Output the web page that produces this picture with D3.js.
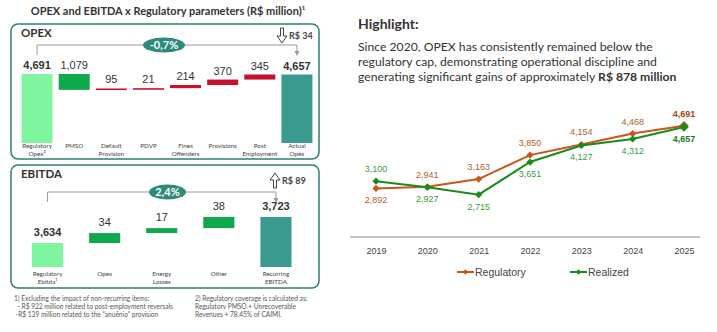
<!DOCTYPE html>
<html>
<head>
<meta charset="utf-8">
<script src="https://cdn.jsdelivr.net/npm/d3@7"></script>
<style>
  body { margin: 0; background: #fff; }
  svg { display: block; }
</style>
</head>
<body>
<div id="chart"></div>
<script>
// ---- data ----
var opexCats = ["Regulatory Opex²", "PMSO", "Default Provision", "PDVP", "Fines Offenders", "Provisions", "Post Employment", "Actual Opex"];
var opexValues = [4691, -1079, 95, 21, 214, 370, 345, 4657];

var ebitdaCats = ["Regulatory Ebitda¹", "Opex", "Energy Losses", "Other", "Recurring EBITDA"];
var ebitdaValues = [3634, 34, 17, 38, 3723];

var years = ["2019", "2020", "2021", "2022", "2023", "2024", "2025"];
var regulatory = [2892, 2941, 3163, 3850, 4154, 4468, 4691];
var realized = [3100, 2927, 2715, 3651, 4127, 4312, 4657];

var fmt = d3.format(",");

var svg = d3.select("#chart").append("svg")
  .attr("width", 717)
  .attr("height", 332);

svg.append("rect").attr("width", 717).attr("height", 332).attr("fill", "#fff");

var titleFont = "Lato, 'Open Sans', sans-serif";
var numFont = "'Liberation Sans', Arial, sans-serif";

// ---- title ----
var title = svg.append("text")
  .attr("x", 168)
  .attr("y", 15)
  .attr("text-anchor", "middle")
  .attr("font-family", titleFont)
  .attr("font-weight", "bold")
  .attr("font-size", 11)
  .attr("fill", "#333");
title.append("tspan").text("OPEX and EBITDA x Regulatory parameters (R$ million)");
title.append("tspan").attr("font-size", 6).attr("dy", -5).text("1");

// ---- waterfall panels ----
function waterfall(opts) {
  var g = svg.append("g");

  g.append("rect")
    .attr("x", opts.box[0])
    .attr("y", opts.box[1])
    .attr("width", opts.box[2])
    .attr("height", opts.box[3])
    .attr("rx", 7)
    .attr("fill", "none")
    .attr("stroke", "#2f7f72")
    .attr("stroke-width", 1.5);

  g.append("text")
    .attr("x", opts.box[0] + 10)
    .attr("y", opts.box[1] + 13)
    .attr("font-family", titleFont)
    .attr("font-weight", "bold")
    .attr("font-size", 11.5)
    .attr("fill", "#333")
    .text(opts.name);

  var x = d3.scaleBand()
    .domain(opts.cats)
    .range(opts.xRange)
    .paddingInner(opts.padIn)
    .paddingOuter(opts.padIn / 2);

  var y = d3.scaleLinear().domain(opts.yDomain).range(opts.yRange);

  // running sums
  var n = opts.values.length;
  var running = 0;
  var bars = opts.values.map(function (v, i) {
    var b = { cat: opts.cats[i], v: v, total: i == 0 || i == n - 1 };
    if (b.total) {
      b.lo = opts.yDomain[0];
      b.hi = v;
      running = v;
    } else {
      b.lo = Math.min(running, running + v);
      b.hi = Math.max(running, running + v);
      running = running + v;
    }
    return b;
  });

  function barColor(b, i) {
    if (i == 0) return "#7ff5a0";
    if (i == n - 1) return "#3b9a8f";
    return b.v < 0 ? opts.downColor : opts.upColor;
  }

  g.selectAll(".bar")
    .data(bars)
    .enter()
    .append("rect")
    .attr("x", function (d) { return x(d.cat); })
    .attr("width", x.bandwidth())
    .attr("y", function (d) { return y(d.hi); })
    .attr("height", function (d) { return Math.max(1.6, y(d.lo) - y(d.hi)); })
    .attr("fill", barColor);

  g.selectAll(".val")
    .data(bars)
    .enter()
    .append("text")
    .attr("x", function (d) { return x(d.cat) + x.bandwidth() / 2; })
    .attr("y", function (d) { return y(d.hi) - opts.labelGap; })
    .attr("text-anchor", "middle")
    .attr("font-family", numFont)
    .attr("font-size", 11)
    .attr("font-weight", function (d) { return d.total ? "bold" : "normal"; })
    .attr("fill", "#333")
    .text(function (d) { return fmt(Math.abs(d.v)); });

  // category labels
  var cl = g.selectAll(".cat")
    .data(opts.cats)
    .enter()
    .append("text")
    .attr("x", function (d) { return x(d) + x.bandwidth() / 2; })
    .attr("y", opts.catY)
    .attr("text-anchor", "middle")
    .attr("font-family", titleFont)
    .attr("font-size", 6.3)
    .attr("fill", "#444");
  cl.each(function (d) {
    var parts = d.split(" ");
    var t = d3.select(this);
    parts.forEach(function (p, k) {
      t.append("tspan")
        .attr("x", x(d) + x.bandwidth() / 2)
        .attr("dy", k == 0 ? 0 : 7.5)
        .text(p);
    });
  });

  // bracket
  var x0 = x(opts.cats[0]) + x.bandwidth() / 2;
  var x1 = x(opts.cats[n - 1]) + x.bandwidth() / 2;
  g.append("path")
    .attr("d", "M" + x0 + "," + opts.bracket[1] + "V" + opts.bracket[0] + "H" + x1 + "V" + (opts.bracket[1] - 3))
    .attr("fill", "none")
    .attr("stroke", "#999")
    .attr("stroke-width", 1);
  g.append("path")
    .attr("d", "M" + (x1 - 2.5) + "," + (opts.bracket[1] - 4) + "L" + (x1 + 2.5) + "," + (opts.bracket[1] - 4) + "L" + x1 + "," + (opts.bracket[1] + 1) + "Z")
    .attr("fill", "#999");

  // badge
  g.append("ellipse")
    .attr("cx", opts.badge[0])
    .attr("cy", opts.bracket[0])
    .attr("rx", opts.badge[1])
    .attr("ry", 7.5)
    .attr("fill", "#2e8a7b");
  g.append("text")
    .attr("x", opts.badge[0])
    .attr("y", opts.bracket[0] + 4)
    .attr("text-anchor", "middle")
    .attr("font-family", titleFont)
    .attr("font-weight", "bold")
    .attr("font-size", 11)
    .attr("fill", "#fff")
    .text(opts.badgeText);

  // delta arrow
  var ax = opts.arrow[0], ay = opts.arrow[1], dir = opts.arrow[2];
  var h = 15;
  var pts = [[-1.5, 0], [1.5, 0], [1.5, 8], [5, 8], [0, h], [-5, 8], [-1.5, 8]];
  g.append("path")
    .attr("d", "M" + pts.map(function (p) {
      var py = dir > 0 ? ay + p[1] : ay + h - p[1];
      return (ax + p[0]) + "," + py;
    }).join("L") + "Z")
    .attr("fill", "#fff")
    .attr("stroke", "#444")
    .attr("stroke-width", 1);
  g.append("text")
    .attr("x", ax + 7)
    .attr("y", ay + 11)
    .attr("font-family", titleFont)
    .attr("font-weight", "bold")
    .attr("font-size", 9)
    .attr("fill", "#444")
    .text(opts.arrowText);
}

waterfall({
  name: "OPEX",
  box: [11, 24, 308, 135],
  cats: opexCats,
  values: opexValues,
  xRange: [18.5, 315.5],
  padIn: 0.165,
  yDomain: [0, 4691],
  yRange: [143, 74],
  upColor: "#c8102e",
  downColor: "#10a84c",
  labelGap: 5,
  catY: 148,
  bracket: [45, 55],
  badge: [164, 21],
  badgeText: "-0,7%",
  arrow: [282, 28, 1],
  arrowText: "R$ 34"
});

waterfall({
  name: "EBITDA",
  box: [11, 165, 308, 123],
  cats: ebitdaCats,
  values: ebitdaValues,
  xRange: [19, 304.5],
  padIn: 0.455,
  yDomain: [3552, 3723],
  yRange: [267, 217],
  upColor: "#10a84c",
  downColor: "#c8102e",
  labelGap: 7,
  catY: 276,
  bracket: [192, 202],
  badge: [167.5, 18.5],
  badgeText: "2,4%",
  arrow: [275, 173, -1],
  arrowText: "R$ 89"
});

// ---- footnotes ----
var notes1 = ["1) Excluding the impact of non-recurring items:", "  - R$ 922 million related to post-employment reversals", " -R$ 139 million related to the \u201canuênio\u201d provision"];
var notes2 = ["2) Regulatory coverage is calculated as:", "Regulatory PMSO + Unrecoverable", "Revenues + 78.45% of CAIMI."];
[[notes1, 14], [notes2, 195]].forEach(function (nb) {
  svg.append("g").selectAll("text")
    .data(nb[0])
    .enter()
    .append("text")
    .attr("x", nb[1])
    .attr("y", function (d, i) { return 301 + i * 8; })
    .attr("font-family", titleFont)
    .attr("font-size", 6.6)
    .attr("fill", "#555")
    .attr("xml:space", "preserve")
    .text(function (d) { return d; });
});

// ---- highlight text ----
svg.append("text")
  .attr("x", 358)
  .attr("y", 29)
  .attr("font-family", titleFont)
  .attr("font-weight", "bold")
  .attr("font-size", 14)
  .attr("fill", "#333")
  .text("Highlight:");

var hl = ["Since 2020, OPEX has consistently remained below the", "regulatory cap, demonstrating operational discipline and", "generating significant gains of approximately "];
hl.forEach(function (line, i) {
  var t = svg.append("text")
    .attr("x", 358)
    .attr("y", 51 + i * 15)
    .attr("font-family", titleFont)
    .attr("font-size", 12.2)
    .attr("fill", "#333")
    .attr("xml:space", "preserve")
    .text(line);
  if (i == hl.length - 1) t.append("tspan").attr("font-weight", "bold").text("R$ 878 million");
});

// ---- line chart ----
var lx = d3.scalePoint().domain(years).range([376, 684]);
var ly = d3.scaleLinear().domain([1500, 5000]).range([237, 115]);

svg.append("line")
  .attr("x1", 350).attr("x2", 700)
  .attr("y1", 237).attr("y2", 237)
  .attr("stroke", "#888")
  .attr("stroke-width", 1);

var xAxis = svg.append("g")
  .attr("transform", "translate(0,237)")
  .call(d3.axisBottom(lx).tickSize(0).tickPadding(11));
xAxis.select(".domain").remove();
xAxis.selectAll("text")
  .attr("font-family", numFont)
  .attr("font-size", 9)
  .attr("fill", "#444");

var series = [
  { name: "Regulatory", values: regulatory, other: realized, color: "#c9561c", label: "#b0602e", bold: "#a0481a" },
  { name: "Realized", values: realized, other: regulatory, color: "#1b8a1b", label: "#3d9a3d", bold: "#217a21" }
];

var lineGen = d3.line()
  .x(function (d) { return lx(d.year); })
  .y(function (d) { return ly(d.v); });

var diamond = d3.symbol().type(d3.symbolSquare).size(22);

series.forEach(function (s) {
  var pts = years.map(function (yr, i) { return { year: yr, v: s.values[i], o: s.other[i], last: i == years.length - 1 }; });
  svg.append("path")
    .datum(pts)
    .attr("d", lineGen)
    .attr("fill", "none")
    .attr("stroke", s.color)
    .attr("stroke-width", 2);

  svg.append("g").selectAll("path")
    .data(pts)
    .enter()
    .append("path")
    .attr("d", function (d) { return d3.symbol().type(d3.symbolSquare).size(d.last ? 45 : 26)(); })
    .attr("transform", function (d) { return "translate(" + lx(d.year) + "," + ly(d.v) + ") rotate(45)"; })
    .attr("fill", s.color);

  svg.append("g").selectAll("text")
    .data(pts)
    .enter()
    .append("text")
    .attr("x", function (d) { return lx(d.year); })
    .attr("y", function (d) { return d.v >= d.o ? ly(d.v) - 9 : ly(d.v) + 15; })
    .attr("text-anchor", "middle")
    .attr("font-family", numFont)
    .attr("font-size", 9)
    .attr("font-weight", function (d) { return d.last ? "bold" : "normal"; })
    .attr("fill", function (d) { return d.last ? s.bold : s.label; })
    .text(function (d) { return fmt(d.v); });
});

// legend
series.forEach(function (s, i) {
  var lg = svg.append("g").attr("transform", "translate(" + (457 + i * 113) + ",272)");
  lg.append("line").attr("x1", 0).attr("x2", 17).attr("stroke", s.color).attr("stroke-width", 2);
  lg.append("path").attr("d", diamond.size(14)()).attr("transform", "translate(8.5,0) rotate(45)").attr("fill", s.color);
  lg.append("text")
    .attr("x", 18)
    .attr("y", 4)
    .attr("font-family", numFont)
    .attr("font-size", 10.5)
    .attr("fill", "#444")
    .text(s.name);
});
</script>
</body>
</html>
